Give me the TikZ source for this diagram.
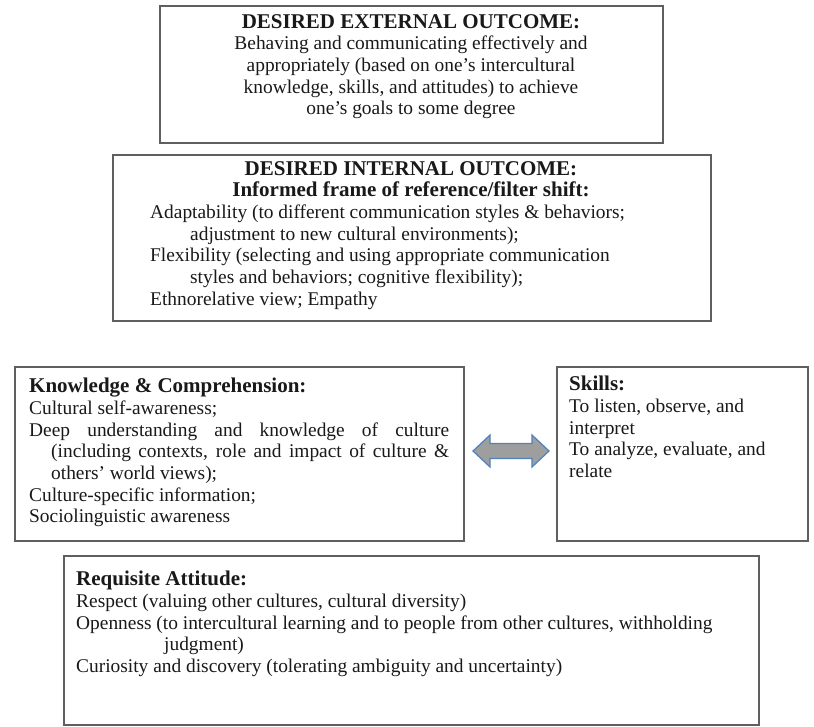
\documentclass[tikz,border=0pt]{standalone}
\usepackage{fontspec}
\setmainfont{Liberation Serif}
\definecolor{boxgray}{RGB}{95,95,95}
\definecolor{txtcol}{RGB}{25,25,25}
\definecolor{arrfill}{RGB}{158,158,158}
\definecolor{arrline}{RGB}{79,129,189}
\newcommand{\hd}[1]{{\fontsize{21}{21.7}\selectfont\bfseries #1}}
\begin{document}
\begin{tikzpicture}[x=1pt,y=-1pt,
  box/.style={draw=boxgray, line width=1.6pt, anchor=north west, inner sep=0pt, fill=white},
  txt/.style={anchor=north west, inner sep=0pt, align=left, text=txtcol, font=\fontsize{19.4}{21.7}\selectfont},
  ctxt/.style={txt, anchor=north, align=center},
  dblarrow/.style={fill=arrfill, draw=arrline, line width=1.2pt, line join=miter}]
\useasboundingbox (0,0) rectangle (814,727);
\fill[white] (0,0) rectangle (814,727);
% boxes
\node[box, minimum width=503pt, minimum height=137pt] (ext) at (159,5) {};
\node[box, minimum width=598pt, minimum height=166pt] (int) at (112,154) {};
\node[box, minimum width=449pt, minimum height=174pt] (kn) at (14,366) {};
\node[box, minimum width=251pt, minimum height=174pt] (sk) at (556,366) {};
\node[box, minimum width=695pt, minimum height=169pt] (att) at (63,555) {};
% texts
\node[ctxt] (extT) at (411,14) {\hd{DESIRED EXTERNAL OUTCOME:}\\
Behaving and communicating effectively and\\
appropriately (based on one’s intercultural\\
knowledge, skills, and attitudes) to achieve\\
one’s goals to some degree};
\node[ctxt] (intT) at (411,161) {\hd{DESIRED INTERNAL OUTCOME:}\\
\hd{Informed frame of reference/filter shift:}};
\node[txt] (intB) at (150,204.5) {Adaptability (to different communication styles \& behaviors;\\
\hspace*{40pt}adjustment to new cultural environments);\\
Flexibility (selecting and using appropriate communication\\
\hspace*{40pt}styles and behaviors; cognitive flexibility);\\
Ethnorelative view; Empathy};
\node[txt] (knT) at (29,378) {\hd{Knowledge \& Comprehension:}\\
Cultural self-awareness;\\
\makebox[420pt][s]{Deep understanding and knowledge of culture}\\
\hspace*{22pt}\makebox[398pt][s]{(including contexts, role and impact of culture \&}\\
\hspace*{22pt}others’ world views);\\
Culture-specific information;\\
Sociolinguistic awareness};
\node[txt] (skT) at (569,376) {\hd{Skills:}\\
To listen, observe, and\\
interpret\\
To analyze, evaluate, and\\
relate};
\node[txt] (attT) at (76,571) {\hd{Requisite Attitude:}\\
Respect (valuing other cultures, cultural diversity)\\
Openness (to intercultural learning and to people from other cultures, withholding\\
\hspace*{88pt}judgment)\\
Curiosity and discovery (tolerating ambiguity and uncertainty)};
% double arrow between knowledge and skills
\coordinate (arr) at (511,451);
\draw[dblarrow, shift={(arr)}] (-38,0) -- (-21,-16) -- (-21,-7.5) -- (21,-7.5) -- (21,-16) -- (38,0)
  -- (21,16) -- (21,7.5) -- (-21,7.5) -- (-21,16) -- cycle;
\end{tikzpicture}
\end{document}
